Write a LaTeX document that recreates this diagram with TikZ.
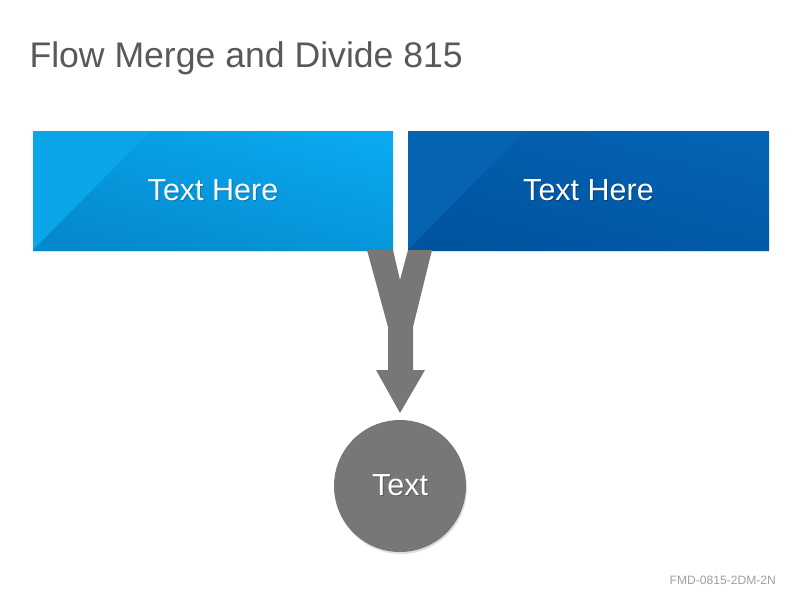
\documentclass[tikz,border=0pt]{standalone}
\usepackage{fontspec}
\setmainfont{Liberation Sans}
\usetikzlibrary{shadows}
\definecolor{titlegray}{HTML}{595959}
\definecolor{footgray}{HTML}{A0A0A0}
\definecolor{skylight}{HTML}{0BA6EA}
\definecolor{skytop}{HTML}{0AA8EE}
\definecolor{skybottom}{HTML}{0589CD}
\definecolor{skyshade}{HTML}{0578B4}
\definecolor{navylight}{HTML}{0563B2}
\definecolor{navytop}{HTML}{0563B3}
\definecolor{navybottom}{HTML}{00539F}
\definecolor{navyshade}{HTML}{00427C}
\definecolor{graytone}{HTML}{777777}
\definecolor{grayshade}{HTML}{5A5A5A}
\newcommand\liftedtext[2]{\makebox[0pt][l]{\hspace{1pt}\raisebox{-1pt}{\textcolor{#1}{#2}}}#2}
\tikzset{
  panel/.style={rectangle,minimum width=360pt,minimum height=119pt,inner sep=0pt,outer sep=0pt,
    text=white,font=\fontsize{30.5}{36}\selectfont,
    drop shadow={shadow xshift=0pt,shadow yshift=-2pt,opacity=0.25}},
  corner/.style={path picture={\fill[#1] (path picture bounding box.north west)
    -- ([xshift=117pt]path picture bounding box.north west)
    -- (path picture bounding box.south west) -- cycle;}},
  hub/.style={circle,minimum size=132pt,inner sep=0pt,outer sep=0pt,fill=graytone,
    text=white,font=\fontsize{30.5}{36}\selectfont,
    drop shadow={shadow xshift=1pt,shadow yshift=-2pt,opacity=0.25}},
  flow/.style={fill=graytone}
}
\begin{document}
\begin{tikzpicture}[x=1pt,y=-1pt]
  \useasboundingbox[fill=white] (0,0) rectangle (800,600);
  \node[anchor=base west,text=titlegray,font=\fontsize{35.6}{42}\selectfont] (title) at (26,67.7) {Flow Merge and Divide 815};
  % the two source boxes
  \node[panel,top color=skytop,bottom color=skybottom,shading angle=-15,corner=skylight] (lbox) at (213,190.5) {\liftedtext{skyshade}{Text Here}};
  \node[panel,minimum width=361pt,top color=navytop,bottom color=navybottom,shading angle=-15,corner=navylight] (rbox) at (588.5,190.5) {\liftedtext{navyshade}{Text Here}};
  % merged flow
  \node[hub] (hub) at (400,486) {\liftedtext{grayshade}{Text}};
  \fill[flow] ([xshift=-26pt]lbox.south east) -- (lbox.south east) -- (400,280) -- (rbox.south west)
    -- ([xshift=24pt]rbox.south west) -- (413,327) -- (413,370) -- (425,370) -- ([yshift=7pt]hub.north)
    -- (376,370) -- (388,370) -- (388,327) -- cycle;
  \node[anchor=base east,text=footgray,font=\fontsize{12.1}{14}\selectfont] (code) at (779.5,584) {FMD-0815-2DM-2N};
\end{tikzpicture}
\end{document}
